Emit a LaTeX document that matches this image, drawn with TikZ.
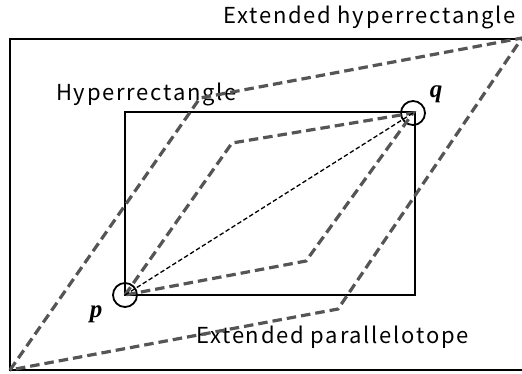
\documentclass[tikz,border=0pt]{standalone}
\usepackage{fontspec}
\setsansfont{Noto Sans CJK JP}
\newfontfamily\ptfont{Liberation Serif}
\usetikzlibrary{positioning}
\definecolor{dashgray}{RGB}{85, 85, 85}
\tikzset{
  boxline/.style={line width=2pt, black},
  paradash/.style={line width=3.2pt, dashgray, dash pattern=on 9.5pt off 5pt},
  diagdash/.style={line width=1.3pt, black, dash pattern=on 4.5pt off 2.5pt},
  ptmark/.style={draw, circle, line width=1.8pt, minimum size=24pt, inner sep=0pt},
  ptlabel/.style={font=\ptfont\bfseries\itshape\fontsize{25}{25}\selectfont},
  boxlabel/.style={font=\sffamily\fontsize{22}{22}\selectfont\addfontfeature{LetterSpace=8}, inner sep=0pt}
}
\begin{document}
\begin{tikzpicture}[x=1pt, y=-1pt]
    \useasboundingbox (0,0) rectangle (522,373);
    % rectangles
    \draw[boxline] (10,38.5) rectangle (525,370);
    \draw[boxline] (125,112) rectangle (415,295);
    % points
    \node (p) [ptmark] at (125,295) {};
    \node (q) [ptmark] at (413,113) {};
    \node (plbl) [ptlabel] at (96,314) {p};
    \node (qlbl) [ptlabel] at (436,94) {q};
    % parallelotope corners
    \coordinate (a) at (232,143);
    \coordinate (b) at (306,261);
    \coordinate (ea) at (10,370);
    \coordinate (eb) at (200,98);
    \coordinate (ec) at (522,38);
    \coordinate (ed) at (338,309);
    % labels
    \node (ehr) [boxlabel, anchor=base east] at (516,23) {Extended hyperrectangle};
    \node (hr) [boxlabel, anchor=base west] at (56,100) {Hyperrectangle};
    \node (ep) [boxlabel, anchor=base west] at (196,343) {Extended parallelotope};

    \draw[paradash] (ea) -- (eb) -- (ec) -- (ed) -- cycle;
    \draw[paradash] (p.center) -- (a) -- (q.center) -- (b) -- cycle;
    \draw[diagdash] (p.center) -- (q.center);
\end{tikzpicture}
\end{document}
